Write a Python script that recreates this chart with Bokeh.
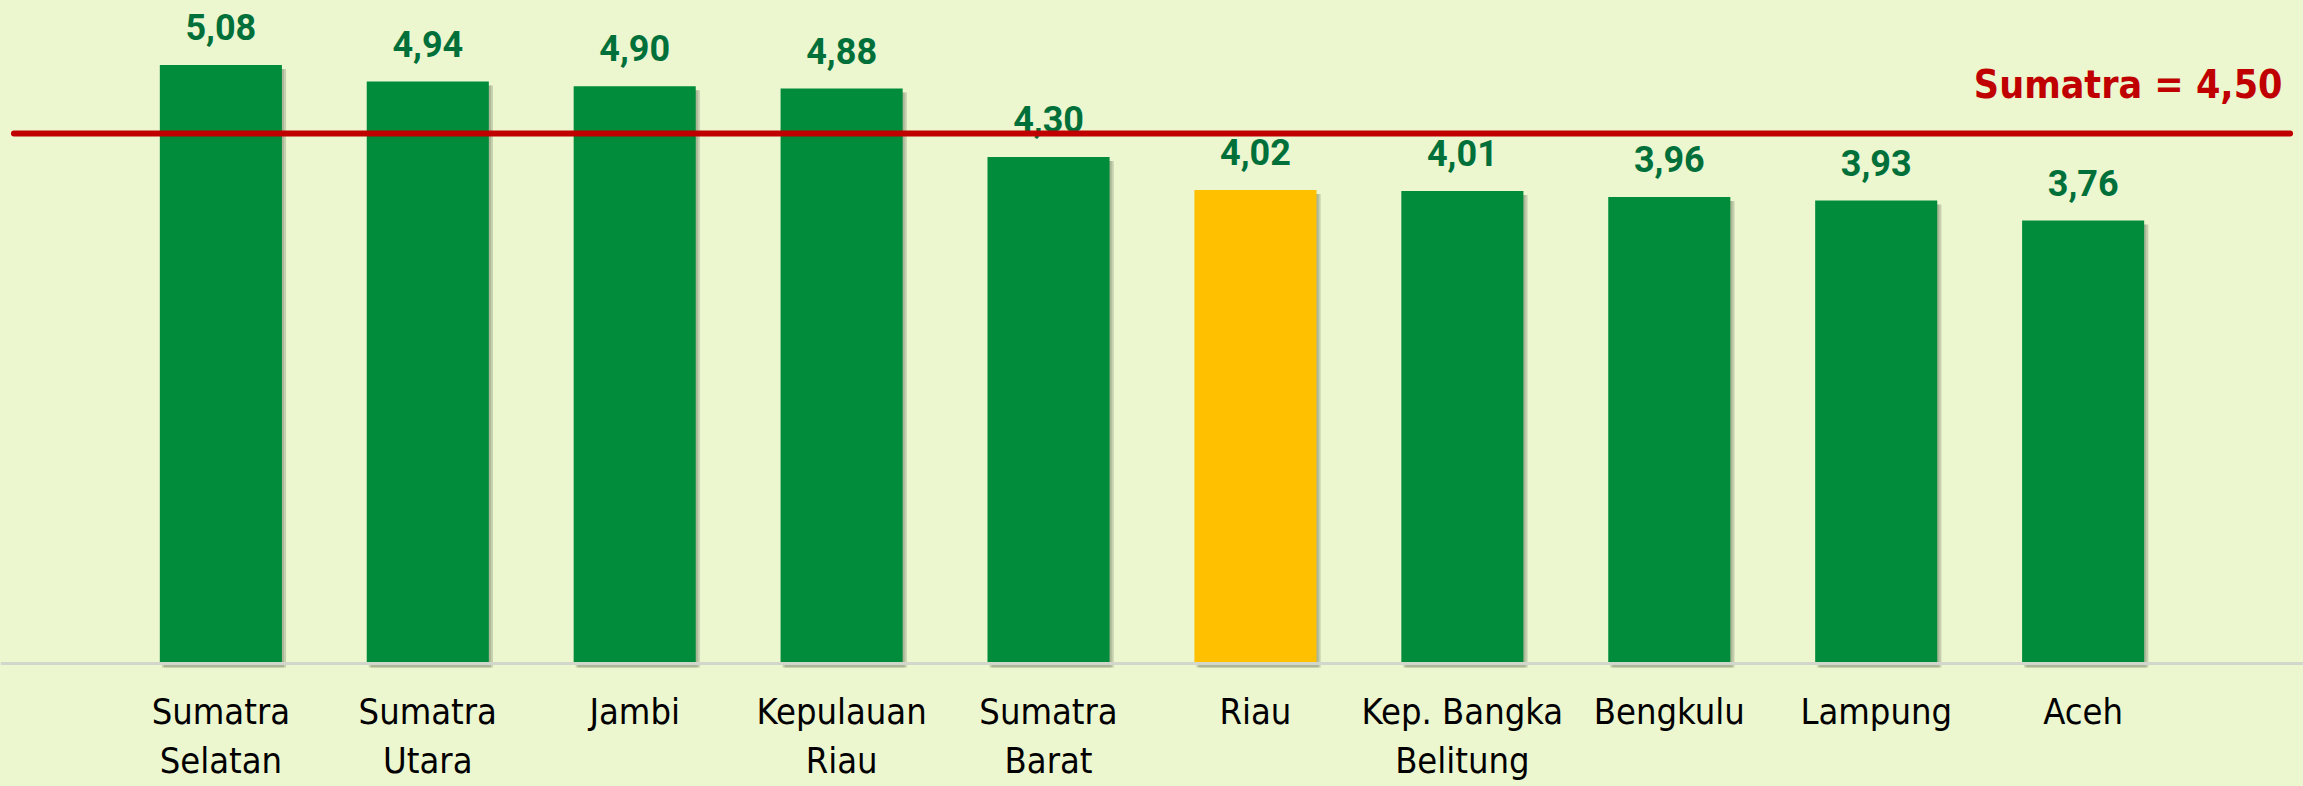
from bokeh.plotting import figure
from bokeh.models import Range1d, FactorRange, Span, Label, ColumnDataSource
from bokeh.transform import dodge
from bokeh.core.properties import value
from bokeh.embed import file_html
from bokeh.resources import INLINE

provinces = ["Sumatra Selatan", "Sumatra Utara", "Jambi", "Kepulauan Riau", "Sumatra Barat",
             "Riau", "Kep. Bangka Belitung", "Bengkulu", "Lampung", "Aceh"]
tick_labels = ["Sumatra\nSelatan", "Sumatra\nUtara", "Jambi", "Kepulauan\nRiau", "Sumatra\nBarat",
               "Riau", "Kep. Bangka\nBelitung", "Bengkulu", "Lampung", "Aceh"]
values = [5.08, 4.94, 4.90, 4.88, 4.30, 4.02, 4.01, 3.96, 3.93, 3.76]
value_labels = ["5,08", "4,94", "4,90", "4,88", "4,30", "4,02", "4,01", "3,96", "3,93", "3,76"]
highlight = "Riau"
sumatra_value = 4.50
sumatra_label = "Sumatra = 4,50"

BG = "#ECF6CF"
GREEN = "#008C3A"
YELLOW = "#FFC000"
DARK = "#00703A"
RED = "#C00000"
FONT = "Liberation Sans Narrow, DejaVu Sans Condensed, Arial Narrow, sans-serif"
FONT_NUM = "Roboto, Liberation Sans, sans-serif"

colors = [YELLOW if c == highlight else GREEN for c in provinces]
shadow_off = 0.034
src = ColumnDataSource(dict(cat=provinces, val=values, lab=value_labels, ticks=tick_labels,
                            col=colors, zero=[0.0] * len(values),
                            shadow_top=[v - shadow_off for v in values],
                            shadow_bot=[-shadow_off] * len(values)))
line_src = ColumnDataSource(dict(first=[provinces[0]], last=[provinces[-1]], y=[sumatra_value]))

W, H = 2303, 786
p = figure(width=W, height=H, output_backend="svg", toolbar_location=None,
           x_range=FactorRange(*provinces, range_padding=0.565, range_padding_units="absolute"),
           y_range=Range1d(-1.044, 5.628),
           min_border=0, min_border_left=0, min_border_right=0, min_border_top=0, min_border_bottom=0,
           background_fill_color=BG, border_fill_color=BG, outline_line_color=None)
p.xgrid.visible = False
p.ygrid.visible = False
p.axis.visible = False

# baseline
p.add_layout(Span(location=0, dimension="width", line_color="#D3D6CB", line_width=3))

# shadows
p.vbar(x=dodge("cat", 0.02, range=p.x_range), top="shadow_top", bottom="shadow_bot", width=0.59,
       source=src, fill_color="#7F8A70", fill_alpha=0.35, line_color=None)
p.vbar(x=dodge("cat", 0.01, range=p.x_range), top="shadow_top", bottom="shadow_bot", width=0.59,
       source=src, fill_color="#7F8A70", fill_alpha=0.35, line_color=None)
# bars
p.vbar(x="cat", top="val", bottom="zero", width=0.59, source=src, fill_color="col", line_color=None)

# value labels
p.text(x="cat", y="val", text="lab", source=src, y_offset=-38, text_align="center",
       text_baseline="alphabetic", text_font=value(FONT_NUM), text_font_style="bold",
       text_font_size="36px", text_color=DARK)

# category labels
p.text(x="cat", y="zero", text="ticks", source=src, y_offset=27, text_align="center",
       text_baseline="top", text_font=value(FONT), text_font_size="36px",
       text_color="#000000", text_line_height=1.2)

# reference line
p.segment(x0=dodge("first", -1.0, range=p.x_range), x1=dodge("last", 1.0, range=p.x_range),
          y0="y", y1="y", source=line_src, line_color=RED, line_width=6, line_cap="round")
p.add_layout(Label(x=2282, y=sumatra_value, x_units="screen", y_units="data", y_offset=49,
                   text=sumatra_label, text_align="right", text_baseline="alphabetic",
                   text_font=FONT, text_font_style="bold", text_font_size="39px",
                   text_color=RED))

html = file_html(p, INLINE)
html = html.replace("<head>", "<head><style>html,body{background:%s;}</style>" % BG, 1)
open("out.html", "w").write(html)
